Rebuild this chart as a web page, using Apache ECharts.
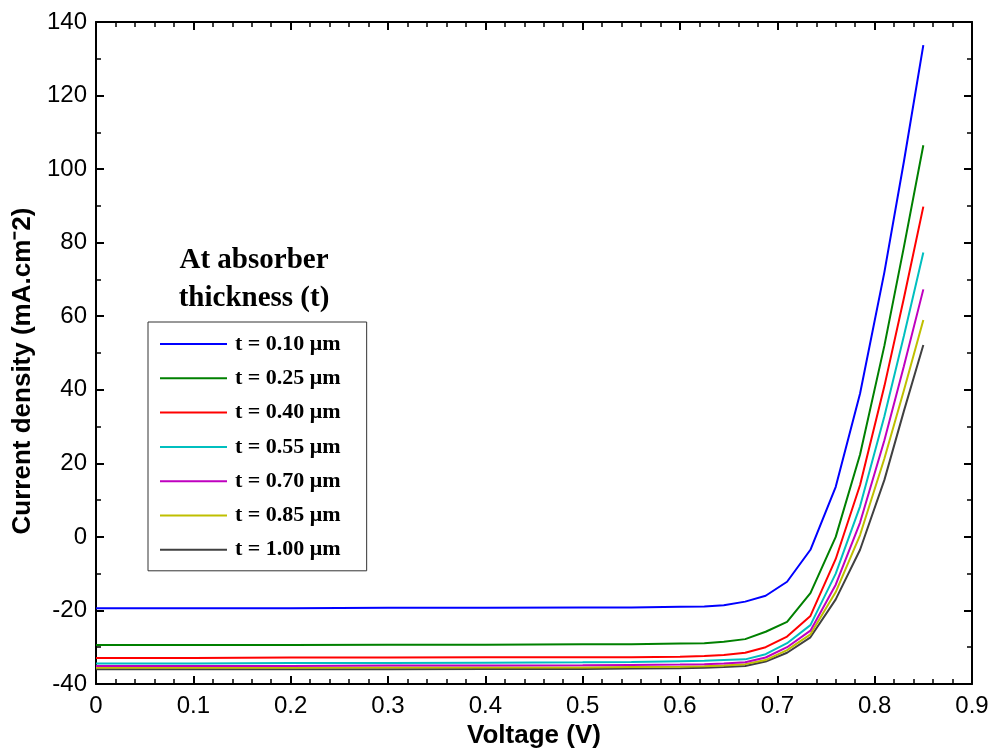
<!DOCTYPE html>
<html><head><meta charset="utf-8">
<script src="https://cdn.jsdelivr.net/npm/echarts@6/dist/echarts.min.js"></script>
<style>html,body{margin:0;padding:0;background:#fff}#c{width:992px;height:749px}</style>
</head><body><div id="c"></div>
<script>
// Voltage (V)
const voltage = [0, 0.1, 0.2, 0.3, 0.4, 0.5, 0.55, 0.6, 0.625, 0.645, 0.667, 0.688, 0.710, 0.734, 0.760, 0.785, 0.81, 0.83, 0.85];
// Current density (mA.cm^-2) for each absorber thickness
const j010 = [-19.4, -19.4, -19.4, -19.3, -19.3, -19.2, -19.2, -19.0, -18.9, -18.6, -17.6, -16.0, -12.2, -3.5, 13.6, 39.0, 72.0, 102.0, 133.7];
const j025 = [-29.4, -29.4, -29.4, -29.3, -29.3, -29.2, -29.2, -29.0, -28.9, -28.5, -27.8, -25.8, -23.1, -15.3, 0.0, 22.4, 52.0, 78.8, 106.5];
const j040 = [-32.9, -32.9, -32.8, -32.8, -32.7, -32.7, -32.7, -32.6, -32.4, -32.1, -31.5, -30.0, -27.1, -21.5, -6.0, 14.1, 41.0, 64.9, 89.8];
const j055 = [-34.4, -34.4, -34.3, -34.3, -34.2, -34.1, -34.0, -33.8, -33.7, -33.5, -33.3, -31.9, -28.9, -24.0, -10.0, 8.3, 32.8, 54.6, 77.3];
const j070 = [-35.1, -35.1, -35.1, -35.0, -35.0, -34.9, -34.8, -34.7, -34.6, -34.4, -34.1, -32.8, -30.0, -25.5, -13.0, 3.9, 26.3, 46.4, 67.3];
const j085 = [-35.6, -35.6, -35.6, -35.5, -35.5, -35.5, -35.4, -35.3, -35.2, -35.0, -34.6, -33.5, -30.8, -26.5, -15.0, 0.5, 21.3, 39.8, 59.0];
const j100 = [-36.0, -36.0, -36.0, -36.0, -35.9, -35.9, -35.8, -35.7, -35.6, -35.4, -35.1, -33.9, -31.5, -27.3, -17.0, -3.5, 15.5, 34.2, 52.2];
const seriesNames = ['t = 0.10 μm', 't = 0.25 μm', 't = 0.40 μm', 't = 0.55 μm', 't = 0.70 μm', 't = 0.85 μm', 't = 1.00 μm'];
const seriesValues = [j010, j025, j040, j055, j070, j085, j100];
const seriesColors = ['#0000ff', '#008000', '#ff0000', '#00bfbf', '#bf00bf', '#bfbf00', '#404040'];
const xTicks = [0, 0.1, 0.2, 0.3, 0.4, 0.5, 0.6, 0.7, 0.8, 0.9];
const yTicks = [-40, -20, 0, 20, 40, 60, 80, 100, 120, 140];

const chart = echarts.init(document.getElementById('c'), null, {renderer: 'canvas'});
const axisFont = {fontFamily: 'Liberation Sans, Arial, sans-serif', fontSize: 24, color: '#000'};
function xAxisDef(pos, show) {
  return {
    type: 'value', position: pos, min: xTicks[0], max: xTicks[xTicks.length - 1], interval: 0.1,
    axisLine: {show: true, onZero: false, lineStyle: {color: '#000', width: 2}},
    axisTick: {show: true, inside: true, length: 8, lineStyle: {color: '#000', width: 2}},
    minorTick: {show: true, splitNumber: 5, length: 5, lineStyle: {color: '#000', width: 1.5}},
    splitLine: {show: false},
    axisLabel: show ? Object.assign({margin: 10, formatter: v => (Math.round(v * 10) / 10).toString()}, axisFont) : {show: false},
    name: show ? 'Voltage (V)' : '', nameLocation: 'middle', nameGap: 38,
    nameTextStyle: {fontFamily: 'Liberation Sans, Arial, sans-serif', fontSize: 26, fontWeight: 'bold', color: '#000'}
  };
}
function yAxisDef(pos, show) {
  return {
    type: 'value', position: pos, min: yTicks[0], max: yTicks[yTicks.length - 1], interval: 20,
    axisLine: {show: true, onZero: false, lineStyle: {color: '#000', width: 2}},
    axisTick: {show: true, inside: true, length: 8, lineStyle: {color: '#000', width: 2}},
    minorTick: {show: true, splitNumber: 2, length: 5, lineStyle: {color: '#000', width: 1.5}},
    splitLine: {show: false},
    axisLabel: show ? Object.assign({margin: 9}, axisFont) : {show: false},
    name: show ? 'Current density (mA.cm⁻2)' : '', nameLocation: 'middle', nameGap: 58,
    nameTextStyle: {fontFamily: 'Liberation Sans, Arial, sans-serif', fontSize: 26, fontWeight: 'bold', color: '#000', padding: [0, 36, 0, 0]}
  };
}
const series = seriesNames.map((name, i) => ({
  name: name, type: 'line', xAxisIndex: 0, yAxisIndex: 0,
  data: voltage.map((v, k) => [v, seriesValues[i][k]]),
  symbol: 'none', smooth: false,
  lineStyle: {color: seriesColors[i], width: 2},
  itemStyle: {color: seriesColors[i]},
  z: 10 - i
}));
chart.setOption({
  animation: false,
  backgroundColor: '#fff',
  grid: {left: 96, right: 20, top: 22, bottom: 65, containLabel: false, outerBoundsMode: 'none'},
  title: {
    text: 'At absorber\nthickness (t)', left: 249, top: 237, textAlign: 'center',
    textStyle: {fontFamily: 'Liberation Serif, Times New Roman, serif', fontWeight: 'bold', fontSize: 29, lineHeight: 38, color: '#000'}
  },
  legend: {
    orient: 'vertical', left: 148, top: 322,
    padding: [11, 26, 10, 12], itemWidth: 67, itemHeight: 14, itemGap: 12.3,
    borderColor: '#333', borderWidth: 1, backgroundColor: '#fff',
    textStyle: {fontFamily: 'Liberation Serif, Times New Roman, serif', fontWeight: 'bold', fontSize: 22, color: '#000', padding: [0, 0, 0, 3]},
    data: seriesNames.map(n => ({name: n, icon: 'path://M0,0 L67,0 L67,2 L0,2 Z'}))
  },
  xAxis: [xAxisDef('bottom', true), xAxisDef('top', false)],
  yAxis: [yAxisDef('left', true), yAxisDef('right', false)],
  series: series
});
</script></body></html>
